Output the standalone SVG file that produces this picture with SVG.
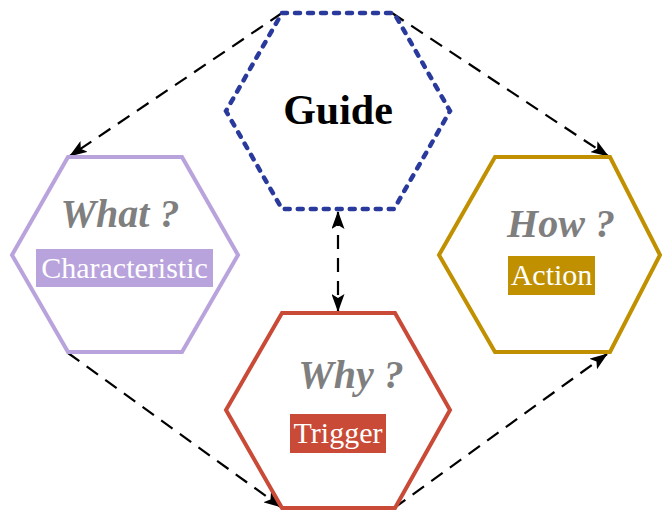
<svg xmlns="http://www.w3.org/2000/svg" width="662" height="513" viewBox="0 0 662 513">
  <style>
    .hex { fill: none; stroke-width: 4; stroke-linejoin: miter; }
    .conn { fill: none; stroke: #000; stroke-width: 2.2; stroke-dasharray: 14 9; }
    .q { font-family: "Liberation Serif", "Times New Roman", serif; font-weight: bold; font-style: italic; font-size: 40px; fill: #7f7f7f; text-anchor: middle; }
    .tag { font-family: "Liberation Serif", "Times New Roman", serif; font-size: 30px; fill: #fff; text-anchor: middle; }
  </style>
  <defs>
    <marker id="arrow" viewBox="0 0 18 13" refX="17" refY="6.5" markerWidth="18" markerHeight="13" markerUnits="userSpaceOnUse" orient="auto-start-reverse">
      <path d="M0,0 L18,6.5 L0,13 L4,6.5 z" fill="#000"/>
    </marker>
  </defs>
  <rect width="662" height="513" fill="#fff"/>

  <g id="connectors">
    <path class="conn" d="M282,13 L70,156" marker-end="url(#arrow)"/>
    <path class="conn" d="M392,13 L608,156" marker-end="url(#arrow)"/>
    <path class="conn" d="M338,212 L338,311" marker-start="url(#arrow)" marker-end="url(#arrow)"/>
    <path class="conn" d="M68,353 L281,507" marker-end="url(#arrow)"/>
    <path class="conn" d="M394,508 L607,354" marker-end="url(#arrow)"/>
  </g>

  <g id="guide">
    <polygon points="282,13 394,13 450,111 394,209 282,209 226,111" fill="none" stroke="#2a3a9c" stroke-width="4.5" stroke-linecap="round" stroke-dasharray="5 8"/>
    <text x="338" y="124" font-family="Liberation Serif, Times New Roman, serif" font-weight="bold" font-size="42" text-anchor="middle" fill="#000">Guide</text>
  </g>

  <g id="what">
    <polygon class="hex" stroke="#b9a3dc" points="68,157 182,157 238,255 182,352 68,352 12,255"/>
    <text class="q" x="120" y="227">What ?</text>
    <rect x="36" y="249" width="177" height="38" fill="#b9a3dc"/>
    <text class="tag" x="124.5" y="278">Characteristic</text>
  </g>

  <g id="how">
    <polygon class="hex" stroke="#c09000" points="495,157 610,157 660,255 610,352 495,352 439,255"/>
    <text class="q" x="561" y="237">How ?</text>
    <rect x="508" y="256" width="87" height="39" fill="#c09000"/>
    <text class="tag" x="551.5" y="285">Action</text>
  </g>

  <g id="why">
    <polygon class="hex" stroke="#c94a36" points="282,313 395,313 450,410 395,508 282,508 226,410"/>
    <text class="q" x="351" y="388">Why ?</text>
    <rect x="290" y="414" width="96" height="39" fill="#c94a36"/>
    <text class="tag" x="338" y="443">Trigger</text>
  </g>
</svg>
